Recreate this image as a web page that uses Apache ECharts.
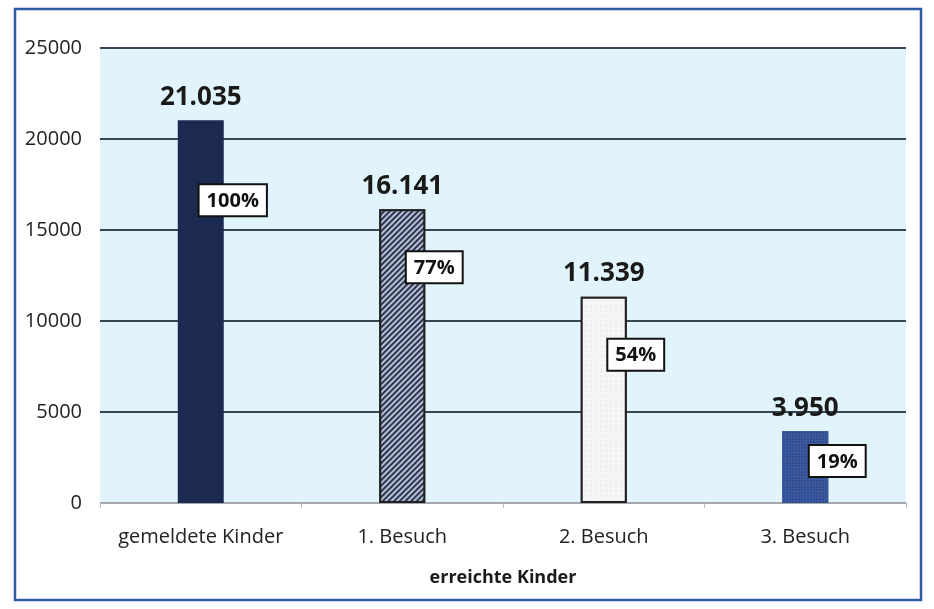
<!DOCTYPE html>
<html>
<head>
<meta charset="utf-8">
<script src="https://cdn.jsdelivr.net/npm/echarts@6/dist/echarts.min.js"></script>
<style>
  html, body { margin: 0; padding: 0; background: #fff; }
  #chart { width: 934px; height: 609px; }
</style>
</head>
<body>
<div id="chart"></div>
<script>
// data
var categories = ["gemeldete Kinder", "1. Besuch", "2. Besuch", "3. Besuch"];
var kinder = [21035, 16141, 11339, 3950];
var anteil = ["100%", "77%", "54%", "19%"];
var axisName = "erreichte Kinder";

// per-bar look
var barStyles = [
    { color: "#1c2a52", borderColor: "#1c2a52", borderWidth: 0 },
    {
        color: "#9aa3b8", borderColor: "#222", borderWidth: 2,
        decal: { color: "#2c3654", backgroundColor: "#b8c0d0", dashArrayX: [1, 0], dashArrayY: [2, 2], rotation: -Math.PI / 4, symbolSize: 1 }
    },
    {
        color: "#f2f2f2", borderColor: "#222", borderWidth: 2,
        decal: { symbol: "rect", color: "#d8d8d8", backgroundColor: "#f5f5f5", symbolSize: 0.5, dashArrayX: [[2, 3]], dashArrayY: [2, 3] }
    },
    {
        color: "#2a4585", borderColor: "#2a4585", borderWidth: 0,
        decal: { symbol: "rect", color: "#1c3068", backgroundColor: "#3c5aa0", symbolSize: 0.6, dashArrayX: [[2, 1]], dashArrayY: [2, 1] }
    }
];
var pctOffsetY = [60, 38, 38, 10];

var chart = echarts.init(document.getElementById("chart"));

function fmtNum(v) {
    return String(v).replace(/\B(?=(\d{3})+(?!\d))/g, ".");
}

chart.setOption({
    animation: false,
    textStyle: { fontFamily: "Open Sans" },
    graphic: [
        {
            type: "rect",
            shape: { x: 15, y: 9, width: 906, height: 591 },
            style: { fill: null, stroke: "#2d5aa5", lineWidth: 2.5 },
            z: 100
        }
    ],
    grid: {
        left: 100,
        right: 28,
        top: 48,
        bottom: 106,
        show: true,
        backgroundColor: "#e2f4fb",
        borderWidth: 0
    },
    xAxis: {
        type: "category",
        data: categories,
        name: axisName,
        nameLocation: "middle",
        nameGap: 66,
        nameTextStyle: { color: "#1a1a1a", fontSize: 18, fontWeight: "bold" },
        axisLine: { show: true, lineStyle: { color: "#c8c8c8", width: 1.5 } },
        axisTick: { show: true, length: 5, lineStyle: { color: "#c0c0c0" } },
        axisLabel: { color: "#222", fontSize: 20, margin: 24, interval: 0 }
    },
    yAxis: {
        type: "value",
        min: 0,
        max: 25000,
        interval: 5000,
        axisLine: { show: false },
        axisTick: { show: false },
        axisLabel: {
            color: "#222", fontSize: 20, margin: 18,
            formatter: function (v) { return String(v); }
        },
        splitLine: { lineStyle: { color: "#3a4656", width: 2 } }
    },
    series: [
        {
            type: "bar",
            barWidth: 46,
            data: kinder.map(function (v, i) {
                return { value: v, itemStyle: barStyles[i] };
            }),
            label: {
                show: true,
                position: "top",
                distance: 10,
                color: "#1a1a1a",
                fontSize: 26,
                fontWeight: "bold",
                formatter: function (p) { return fmtNum(p.value); }
            }
        },
        {
            type: "bar",
            barWidth: 46,
            barGap: "-100%",
            silent: true,
            itemStyle: { color: "rgba(0,0,0,0)" },
            data: kinder.map(function (v, i) {
                return {
                    value: v,
                    label: { offset: [32, pctOffsetY[i]] }
                };
            }),
            label: {
                show: true,
                position: "insideTop",
                formatter: function (p) { return anteil[p.dataIndex]; },
                color: "#111",
                fontSize: 20,
                fontWeight: "bold",
                backgroundColor: "#fff",
                borderColor: "#111",
                borderWidth: 2,
                padding: [6, 7, 4, 7]
            },
            z: 5
        }
    ]
});
</script>
</body>
</html>
